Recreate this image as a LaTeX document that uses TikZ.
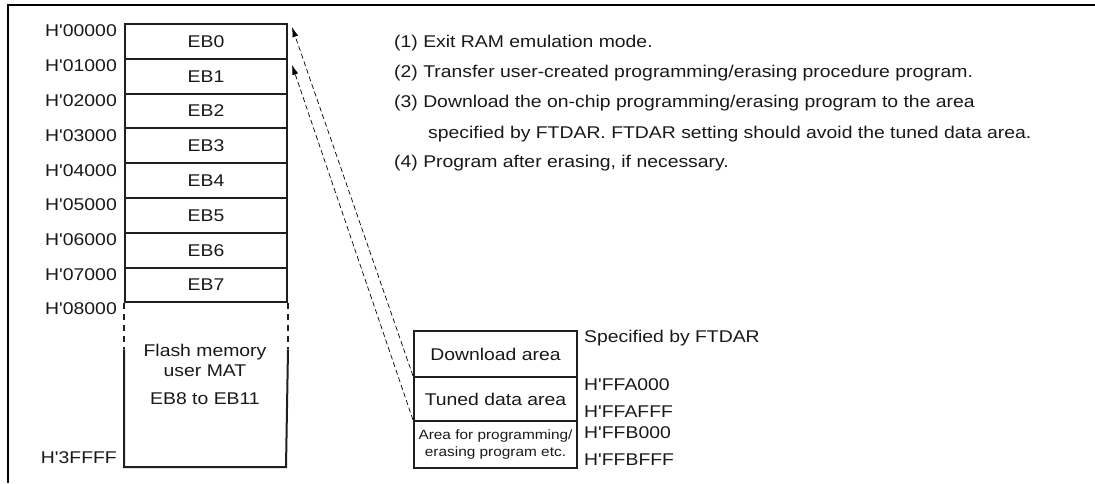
\documentclass[tikz,border=0pt]{standalone}
\usepackage{fontspec}
\setmainfont[FakeStretch=1.14, Ligatures=TeXOff]{Liberation Sans}
\usetikzlibrary{arrows.meta,positioning}

\begin{document}
\begin{tikzpicture}[x=1pt, y=-1pt, every node/.style={inner sep=0pt, text=black!90, font=\fontsize{17}{20}\selectfont}, blk/.style={draw=black!88, line width=2pt, minimum width=162pt, minimum height=34.8pt, anchor=north west}, addr/.style={anchor=east}, area/.style={draw=black!88, line width=2pt, minimum width=163pt, anchor=north west, align=center}, note/.style={anchor=west}, arr/.style={-{Latex[length=10pt,width=6pt]}, line width=0.7pt, dash pattern=on 5pt off 3pt}]
\useasboundingbox (0,0) rectangle (1095,483);
\draw[line width=2pt] (8,483) -- (8,4.5) -- (1095,4.5);
% erase blocks
\foreach \i in {0,...,7} {
  \node[blk] (eb\i) at (124,23+34.8*\i) {\raisebox{-2pt}{EB\i}};
  \node[addr] (a\i) at (117,31+34.8*\i) {H'0\i000};
}
\node[addr] (a8) at (117,309) {H'08000};
\node[addr] (aend) at (117,458) {H'3FFFF};
% user MAT
\draw[line width=2pt, dash pattern=on 6pt off 5pt, black!88] (eb7.south west) -- ++(0,46) (eb7.south east) -- ++(0,46);
\draw[line width=2pt, black!88] ([yshift=-46pt]eb7.south west) |- (286,467) -- ([yshift=-46pt]eb7.south east);
\node[align=center] (flash) at (205,374) {Flash memory\\user MAT\\[8pt]EB8 to EB11};
% RAM areas
\node[area, minimum height=46pt] (dl) at (413,330) {Download area};
\node[area, minimum height=44pt] (tuned) at (413,376) {Tuned data area};
\node[area, minimum height=47pt, font=\fontsize{13.5}{17}\selectfont] (prog) at (413,420) {Area for programming/\\erasing program etc.};
\node[note] (ftdar) at (584,338) {Specified by FTDAR};
\node[note] (r1) at (584,385) {H'FFA000};
\node[note] (r2) at (584,412) {H'FFAFFF};
\node[note] (r3) at (584,433) {H'FFB000};
\node[note] (r4) at (584,460) {H'FFBFFF};
\draw[arr] (tuned.north west) -- ([xshift=4pt,yshift=-4pt]eb0.north east);
\draw[arr] (prog.north west) -- ([xshift=4pt,yshift=-7pt]eb1.north east);
% procedure
\node[note] (s1) at (394,43) {(1) Exit RAM emulation mode.};
\node[note] (s2) at (394,73) {(2) Transfer user-created programming/erasing procedure program.};
\node[note] (s3) at (394,103) {(3) Download the on-chip programming/erasing program to the area};
\node[note] (s3b) at (428,134) {specified by FTDAR. FTDAR setting should avoid the tuned data area.};
\node[note] (s4) at (394,163) {(4) Program after erasing, if necessary.};
\end{tikzpicture}
\end{document}
